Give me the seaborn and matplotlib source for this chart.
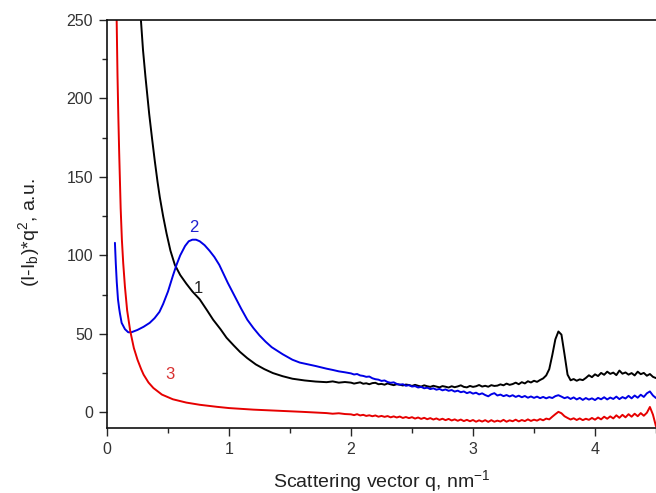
import matplotlib
matplotlib.use("Agg")
import matplotlib.pyplot as plt
import seaborn as sns
from matplotlib.ticker import MultipleLocator

# ---- data ----
# smooth low-q parts of each curve
black_q_head = [0.26, 0.278, 0.295, 0.315, 0.332, 0.346, 0.37, 0.392, 0.414, 0.433, 0.46,
                0.488, 0.52, 0.556, 0.60, 0.65, 0.70, 0.76, 0.82, 0.87, 0.93, 0.98, 1.04,
                1.09, 1.15, 1.22, 1.29, 1.36, 1.44, 1.52, 1.62, 1.71, 1.80, 1.85, 1.90, 1.95]
black_y_head = [272, 250, 231, 214, 201, 190, 174, 160, 147, 137, 125,
                114, 103, 94, 87.5, 82, 77, 72, 65, 59, 53, 47.5, 42.5,
                38.5, 34.5, 30.5, 27.5, 25, 23, 21.4, 20.3, 19.6, 19.2, 19.7, 18.9, 19.3]

blue_q_head = [0.065, 0.072, 0.08, 0.09, 0.10, 0.106, 0.12, 0.147, 0.174, 0.20, 0.25, 0.30,
               0.35, 0.39, 0.43, 0.46, 0.50, 0.54, 0.57, 0.60, 0.64, 0.67, 0.70, 0.73,
               0.76, 0.80, 0.84, 0.88, 0.92, 0.96, 0.99, 1.04, 1.10, 1.15, 1.20, 1.25,
               1.30, 1.35, 1.44, 1.52, 1.58, 1.65, 1.71, 1.80, 1.85, 1.90, 1.95]
blue_y_head = [108, 95, 83, 72, 66, 63, 57, 53, 51, 51, 52.5, 54.5,
               57, 60, 64, 69, 77, 87, 94, 100, 106, 109, 110, 110,
               109, 106.5, 103, 99, 94, 87.5, 82.5, 75, 66, 59, 53.7, 49,
               45, 41.5, 37, 33.5, 31.7, 30.5, 29.5, 27.8, 27.0, 26.1, 25.5]

red_q_head = [0.07, 0.079, 0.086, 0.093, 0.10, 0.112, 0.122, 0.133, 0.147, 0.165, 0.19,
              0.22, 0.25, 0.28, 0.30, 0.34, 0.38, 0.45, 0.54, 0.65, 0.76, 0.90, 1.00,
              1.20, 1.40, 1.60, 1.80, 1.85, 1.90, 1.95]
red_y_head = [300, 250, 215, 188, 165, 130, 110, 95, 80, 65, 52,
              41, 33.5, 27.5, 24, 19, 15.5, 11.3, 8.3, 6.2, 4.8, 3.5, 2.7,
              1.7, 1.0, 0.3, -0.5, -0.9, -0.6, -1.1]

# noisy high-q parts, common q grid
q_tail = [2.000, 2.025, 2.050, 2.075, 2.100, 2.125, 2.150, 2.175, 2.200, 2.225,
          2.250, 2.275, 2.300, 2.325, 2.350, 2.375, 2.400, 2.425, 2.450, 2.475,
          2.500, 2.525, 2.550, 2.575, 2.600, 2.625, 2.650, 2.675, 2.700, 2.725,
          2.750, 2.775, 2.800, 2.825, 2.850, 2.875, 2.900, 2.925, 2.950, 2.975,
          3.000, 3.025, 3.050, 3.075, 3.100, 3.125, 3.150, 3.175, 3.200, 3.225,
          3.250, 3.275, 3.300, 3.325, 3.350, 3.375, 3.400, 3.425, 3.450, 3.475,
          3.500, 3.525, 3.550, 3.575, 3.600, 3.625, 3.650, 3.675, 3.700, 3.725,
          3.750, 3.775, 3.800, 3.825, 3.850, 3.875, 3.900, 3.925, 3.950, 3.975,
          4.000, 4.025, 4.050, 4.075, 4.100, 4.125, 4.150, 4.175, 4.200, 4.225,
          4.250, 4.275, 4.300, 4.325, 4.350, 4.375, 4.400, 4.425, 4.450, 4.475,
          4.500]

black_y_tail = [18.9, 18.3, 18.7, 19.1, 18.2, 18.5, 17.9, 18.6, 18.8, 17.9,
                18.1, 17.6, 18.4, 17.8, 17.3, 17.9, 17.6, 17.1, 17.7, 17.4,
                16.8, 17.5, 16.9, 16.4, 17.2, 16.6, 16.2, 16.9, 16.4, 15.9,
                16.7, 16.3, 15.8, 16.6, 16.0, 16.5, 17.2, 16.2, 15.9, 16.8,
                16.2, 16.6, 17.4, 16.4, 16.9, 16.3, 17.3, 16.8, 17.0, 17.8,
                17.2, 18.3, 17.5, 18.0, 18.9, 17.9, 19.2, 18.4, 19.8, 19.0,
                20.1, 19.4, 20.6, 21.6, 23.5, 27.5, 36.5, 46.5, 51.5, 49.5,
                37.0, 24.0, 20.4, 21.2, 20.1, 21.0, 20.5, 21.9, 23.6, 22.4,
                24.2, 23.1, 25.1, 23.9, 25.9, 24.5, 25.3, 23.7, 26.6, 24.6,
                25.4, 24.0, 25.0, 23.5, 25.9, 24.3, 25.1, 23.3, 24.4, 22.6,
                21.8]

blue_y_tail = [24.8, 24.1, 24.4, 23.5, 23.2, 22.6, 22.8, 21.7, 21.1, 20.8,
               20.0, 20.3, 19.3, 18.8, 19.1, 18.1, 17.6, 17.9, 16.9, 17.3,
               16.4, 16.7, 15.8, 16.2, 15.3, 15.7, 14.8, 15.3, 14.4, 14.9,
               14.0, 14.6, 13.7, 14.2, 13.2, 13.8, 12.8, 13.3, 12.2, 12.9,
               11.9, 12.5, 11.4, 12.1, 11.0, 10.2, 11.5, 12.2, 10.7, 11.3,
               10.3, 11.0, 10.1, 10.9, 9.8, 10.6, 9.6, 10.4, 9.3, 10.1,
               9.2, 10.0, 9.0, 9.8, 8.9, 9.7, 9.1, 10.3, 10.9, 10.0,
               9.0, 9.7, 8.5, 9.5, 8.2, 9.2, 7.9, 9.1, 8.1, 8.9,
               7.8, 9.2, 8.3, 9.6, 8.2, 9.4, 8.5, 10.0, 8.4, 9.7,
               8.8, 10.5, 8.9, 10.7, 9.3, 11.2, 9.8, 12.1, 13.3, 10.7,
               9.1]

red_y_tail = [-1.3, -1.8, -1.2, -2.0, -1.6, -2.3, -1.9, -2.5, -2.0, -2.8,
              -2.3, -2.9, -2.4, -3.2, -2.6, -3.3, -2.7, -3.6, -3.0, -3.7,
              -3.1, -4.0, -3.3, -4.2, -3.5, -4.4, -3.7, -4.6, -3.9, -4.8,
              -4.1, -5.0, -4.2, -5.2, -4.5, -5.4, -4.6, -5.6, -4.8, -5.7,
              -4.9, -6.0, -5.1, -5.9, -5.0, -6.1, -5.0, -6.0, -5.3, -5.9,
              -4.8, -6.0, -5.1, -5.7, -4.7, -5.8, -4.9, -5.6, -4.5, -5.5,
              -4.7, -5.3, -4.3, -5.1, -4.0, -4.5, -2.8, -1.2, 0.3, -0.6,
              -2.5, -3.6, -4.6, -3.8, -4.9, -3.9, -5.0, -4.1, -4.8, -3.6,
              -4.7, -3.3, -4.5, -2.8, -4.1, -2.6, -3.9, -1.9, -3.5, -1.6,
              -3.2, -1.2, -2.8, -0.9, -2.5, -0.5, -2.2, -0.3, 3.4, -1.5,
              -9.0]

curve_labels = ["1", "2", "3"]
label_q = [0.745, 0.71, 0.515]
label_y = [79, 118, 24]

# ---- styling ----
sns.set_style("ticks")
plt.rcParams["font.family"] = ["Liberation Sans", "DejaVu Sans"]
plt.rcParams["mathtext.default"] = "regular"

black = "#000000"
blue = "#0000e6"
red = "#e60000"
label_colors = ["#222222", "#2020d0", "#d83030"]

fig = plt.figure(figsize=(6.56, 4.93), dpi=100)
ax = fig.add_axes([107 / 656, 1 - 428 / 493, 549 / 656, 408 / 493])

sns.lineplot(x=black_q_head + q_tail, y=black_y_head + black_y_tail, color=black,
             lw=1.4, estimator=None, sort=False, ax=ax)
sns.lineplot(x=blue_q_head + q_tail, y=blue_y_head + blue_y_tail, color=blue,
             lw=1.4, estimator=None, sort=False, ax=ax)
sns.lineplot(x=red_q_head + q_tail, y=red_y_head + red_y_tail, color=red,
             lw=1.4, estimator=None, sort=False, ax=ax)

for txt, xq, yv, c in zip(curve_labels, label_q, label_y, label_colors):
    ax.text(xq, yv, txt, color=c, fontsize=12, ha="center", va="center")

ax.set_xlim(0, 4.5)
ax.set_ylim(-10, 250)
ax.xaxis.set_major_locator(MultipleLocator(1))
ax.xaxis.set_minor_locator(MultipleLocator(0.5))
ax.yaxis.set_major_locator(MultipleLocator(50))
ax.yaxis.set_minor_locator(MultipleLocator(25))
ax.tick_params(which="major", direction="out", length=6, width=1, labelsize=11.5,
               labelcolor="#333333", pad=4)
ax.tick_params(which="minor", direction="out", length=3.5, width=1)
ax.tick_params(top=False, right=False)

for side in ["left", "bottom", "top"]:
    ax.spines[side].set_linewidth(1.2)
    ax.spines[side].set_color("#111111")
ax.spines["right"].set_visible(False)

ax.set_xlabel("Scattering vector q, nm$^{-1}$", fontsize=14, color="#222222")
ax.set_ylabel("(I-I$_b$)*q$^2$, a.u.", fontsize=14, color="#222222")
ax.xaxis.set_label_coords(0.5, -0.098)
ax.yaxis.set_label_coords(-0.118, 0.48)

fig.savefig("out.png", dpi=100)
